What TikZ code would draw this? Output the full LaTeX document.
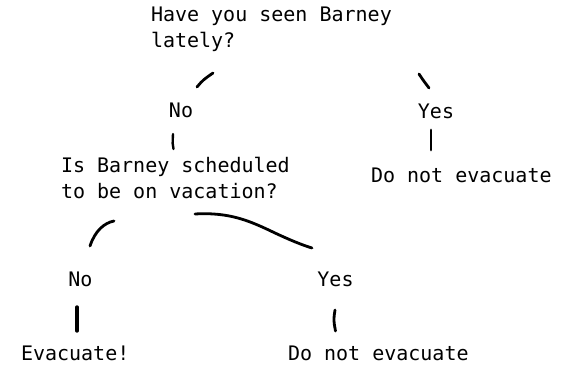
\documentclass[tikz,border=0pt]{standalone}
\usepackage{fontspec}
\setmainfont{DejaVu Sans Mono}
\begin{document}
\begin{tikzpicture}[x=1pt,y=1pt,
  txt/.style={inner sep=0pt,outer sep=0pt,font=\fontsize{20}{26}\selectfont,align=left},
  lbl/.style={inner sep=0pt,outer sep=0pt,font=\fontsize{20}{26}\selectfont},
  stroke/.style={line width=2.8pt,line cap=round}]
\useasboundingbox (0,0) rectangle (562,366);
% nodes (multi-line nodes: base = baseline of last line)
\node[txt,anchor=base west] (q1) at (151,318) {Have you seen Barney\\lately?};
\node[lbl,anchor=base] (n1) at (181,248) {No};
\node[lbl,anchor=base] (y1) at (436,247) {Yes};
\node[txt,anchor=base west] (q2) at (61,167) {Is Barney scheduled\\to be on vacation?};
\node[lbl,anchor=base west] (d1) at (371,183) {Do not evacuate};
\node[lbl,anchor=base] (n2) at (80.5,79) {No};
\node[lbl,anchor=base] (y2) at (335.5,79) {Yes};
\node[lbl,anchor=base west] (e) at (21,5) {Evacuate!};
\node[lbl,anchor=base west] (d2) at (288,5) {Do not evacuate};
% stroke ends
\coordinate (a1) at (197,279); \coordinate (a2) at (213,293);
\coordinate (b1) at (419,292); \coordinate (b2) at (429,278);
\coordinate (c1) at (173,232); \coordinate (c2) at (173.5,217);
\coordinate (f1) at (431,236); \coordinate (f2) at (431,216);
\coordinate (g1) at (90,120);  \coordinate (g2) at (114,145);
\coordinate (h1) at (195,152); \coordinate (h2) at (312,118);
\coordinate (k1) at (77,59);   \coordinate (k2) at (77,35);
\coordinate (m1) at (335,56);  \coordinate (m2) at (335.5,35);
% connectors
\draw[stroke] (a1) .. controls (203,286) .. (a2);
\draw[stroke] (b1) .. controls (423,286) .. (b2);
\draw[stroke,line width=2.4pt] (c1) .. controls (172.5,222) .. (c2);
\draw[stroke] (f1) -- (f2);
\draw[stroke] (g1) .. controls (95,135) and (104,143) .. (g2);
\draw[stroke] (h1) .. controls (230,154) and (250,145) .. (275,133) .. controls (290,126) and (302,121) .. (h2);
\draw[stroke,line width=3.4pt] (k1) -- (k2);
\draw[stroke] (m1) .. controls (333.5,46) .. (m2);
\end{tikzpicture}
\end{document}
